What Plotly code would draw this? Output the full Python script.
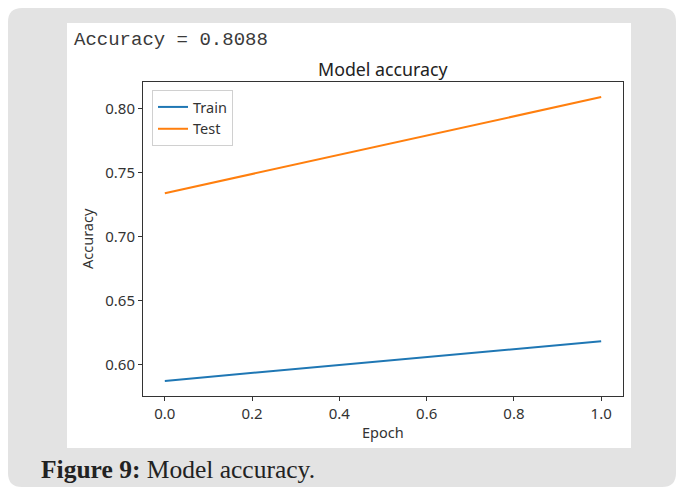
import plotly.graph_objects as go

# ---- data ----
epochs = [0, 1]
train_acc = [0.587, 0.618]
test_acc = [0.7337, 0.8088]
series_names = ["Train", "Test"]
x_ticks = [0.0, 0.2, 0.4, 0.6, 0.8, 1.0]
y_ticks = [0.60, 0.65, 0.70, 0.75, 0.80]
header_text = "Accuracy = 0.8088"
title_text = "Model accuracy"
caption_bold = "Figure 9:"
caption_rest = " Model accuracy."

# ---- layout geometry (pixels) ----
W, H = 684, 491
L, R, T, B = 143, 623, 82, 396


def px(x):
    return (x - L) / (R - L)


def py(y):
    return (B - y) / (B - T)


def rounded_rect(x0, y0, x1, y1, r):
    X0, X1 = px(x0), px(x1)
    Y0, Y1 = py(y0), py(y1)
    rx = r / (R - L)
    ry = r / (B - T)
    return (f"M {X0+rx} {Y0} L {X1-rx} {Y0} Q {X1} {Y0} {X1} {Y0-ry} "
            f"L {X1} {Y1+ry} Q {X1} {Y1} {X1-rx} {Y1} "
            f"L {X0+rx} {Y1} Q {X0} {Y1} {X0} {Y1+ry} "
            f"L {X0} {Y0-ry} Q {X0} {Y0} {X0+rx} {Y0} Z")


fig = go.Figure()
fig.add_trace(go.Scatter(x=epochs, y=train_acc, mode="lines", name=series_names[0],
                         line=dict(color="#1f77b4", width=2)))
fig.add_trace(go.Scatter(x=epochs, y=test_acc, mode="lines", name=series_names[1],
                         line=dict(color="#ff7f0e", width=2)))

tick_font = dict(family="Noto Sans", size=15, color="#333333")

fig.update_layout(
    width=W, height=H,
    margin=dict(l=L, r=W - R, t=T, b=H - B, pad=0),
    paper_bgcolor="white",
    plot_bgcolor="white",
    showlegend=True,
    legend=dict(x=px(152), y=py(90), xanchor="left", yanchor="top",
                bgcolor="white", bordercolor="#d0d0d0", borderwidth=1,
                font=dict(family="Noto Sans", size=14.5, color="#333333"),
                tracegroupgap=0),
    xaxis=dict(range=[-0.05, 1.05], tickvals=x_ticks, tickformat=".1f",
               showgrid=False, zeroline=False, showline=True, mirror=True,
               linecolor="#333333", linewidth=1, ticks="outside", ticklen=4,
               tickcolor="#333333", tickfont=tick_font),
    yaxis=dict(range=[0.5752, 0.8206], tickvals=y_ticks, tickformat=".2f",
               showgrid=False, zeroline=False, showline=True, mirror=True,
               linecolor="#333333", linewidth=1, ticks="outside", ticklen=4,
               tickcolor="#333333", tickfont=tick_font),
    shapes=[
        dict(type="path", xref="paper", yref="paper", layer="below",
             path=rounded_rect(8, 8, 676, 487, 14),
             fillcolor="#e3e3e3", line=dict(width=0)),
        dict(type="rect", xref="paper", yref="paper", layer="below",
             x0=px(67), x1=px(631), y0=py(448), y1=py(23),
             fillcolor="white", line=dict(width=0)),
    ],
    annotations=[
        dict(text=header_text, xref="paper", yref="paper", x=px(72), y=py(40),
             xanchor="left", yanchor="middle", showarrow=False,
             font=dict(family="Liberation Mono", size=19, color="#3a3a3a")),
        dict(text=title_text, xref="paper", yref="paper", x=0.5, y=py(69),
             xanchor="center", yanchor="middle", showarrow=False,
             font=dict(family="Noto Sans", size=17.8, color="#222222")),
        dict(text="Accuracy", xref="paper", yref="paper", x=px(87), y=0.5,
             xanchor="center", yanchor="middle", textangle=-90, showarrow=False,
             font=dict(family="Noto Sans", size=14.5, color="#333333")),
        dict(text="Epoch", xref="paper", yref="paper", x=0.5, y=py(432),
             xanchor="center", yanchor="middle", showarrow=False,
             font=dict(family="Noto Sans", size=14.5, color="#333333")),
        dict(text=f"<b>{caption_bold}</b>{caption_rest}", xref="paper", yref="paper",
             x=px(39), y=py(469), xanchor="left", yanchor="middle", showarrow=False,
             font=dict(family="Liberation Serif", size=25.5, color="#222222")),
    ],
)

fig.write_html("out.html")
